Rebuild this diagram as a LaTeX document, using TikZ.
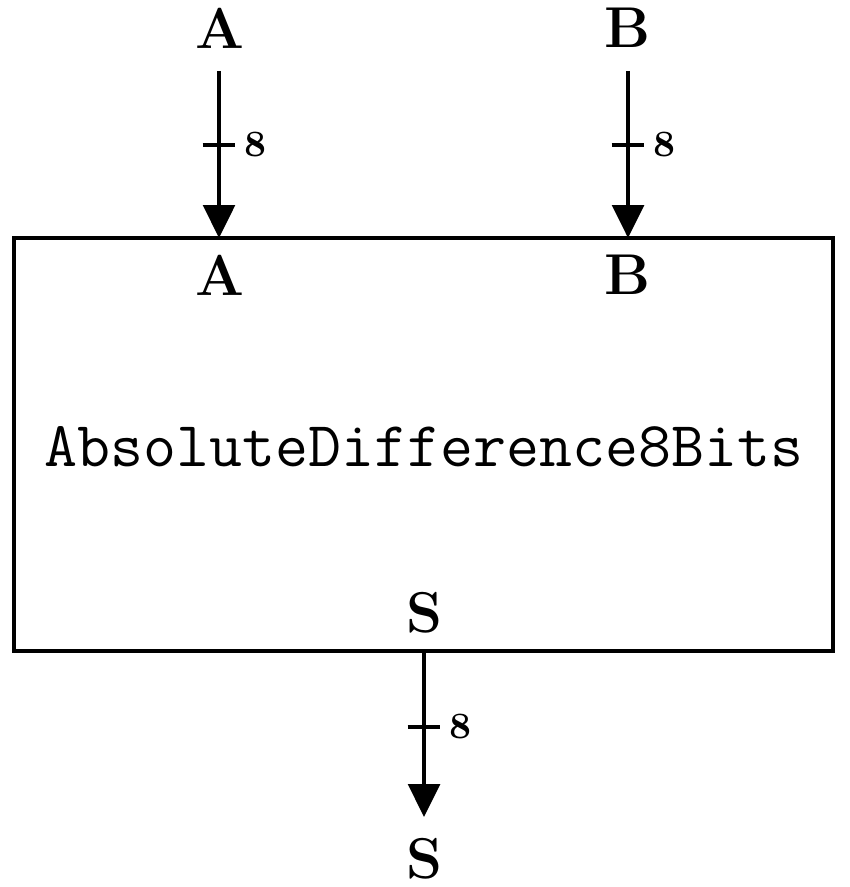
\documentclass[tikz,border=0pt]{standalone}
\usepackage{fontspec}
\usepackage{tikz}
\usetikzlibrary{arrows.meta}

\begin{document}
\begin{tikzpicture}[x=0.25pt, y=-0.25pt, line width=1.2pt,
        block_style/.style={draw=black, line width=1.2pt, minimum width=204.75pt, minimum height=103.25pt, inner sep=0pt, outer sep=0pt},
        name_style/.style={font=\fontsize{16}{19}\selectfont\ttfamily, inner sep=0pt},
        port_style/.style={font=\fontsize{14.4}{17}\selectfont\bfseries, inner sep=0pt},
        width_style/.style={font=\fontsize{9.3}{11}\selectfont\bfseries, inner sep=0pt, anchor=west},
        bus_style/.style={draw=black, line width=1.2pt, -{Triangle[width=7.8pt,length=8.2pt]}},
        tick_style/.style={draw=black, line width=1.2pt}]

        \useasboundingbox (0,0) rectangle (849,887);

        \node [block_style](adiff) at (423.5,444.5) {};

        \node [name_style](adiff_name) at (424,447) {AbsoluteDifference8Bits};

        \node [port_style](pA) at (220,275) {A};

        \node [port_style](pB) at (628,275) {B};

        \node [port_style](pS) at (424,613) {S};

        \node [port_style](xA) at (220,28) {A};

        \node [port_style](xB) at (628,28) {B};

        \node [port_style](xS) at (424,859) {S};

        \coordinate (sA) at (219,71);

        \coordinate (sB) at (628,71);

        \coordinate (eS) at (424,817);

        \coordinate (mA) at (219,145);

        \coordinate (mB) at (628,145);

        \coordinate (mS) at (424,727);

        \draw [bus_style] (sA) -- (sA |- adiff.north);

        \draw [bus_style] (sB) -- (sB |- adiff.north);

        \draw [bus_style] (eS |- adiff.south) -- (eS);

        \draw [tick_style] ([xshift=-4.1pt]mA) -- ([xshift=4.1pt]mA);

        \draw [tick_style] ([xshift=-4.1pt]mB) -- ([xshift=4.1pt]mB);

        \draw [tick_style] ([xshift=-4.1pt]mS) -- ([xshift=4.1pt]mS);

        \node [width_style](wA) at ([xshift=5.7pt]mA) {8};

        \node [width_style](wB) at ([xshift=5.7pt]mB) {8};

        \node [width_style](wS) at ([xshift=5.7pt]mS) {8};

        \end{tikzpicture}
\end{document}
